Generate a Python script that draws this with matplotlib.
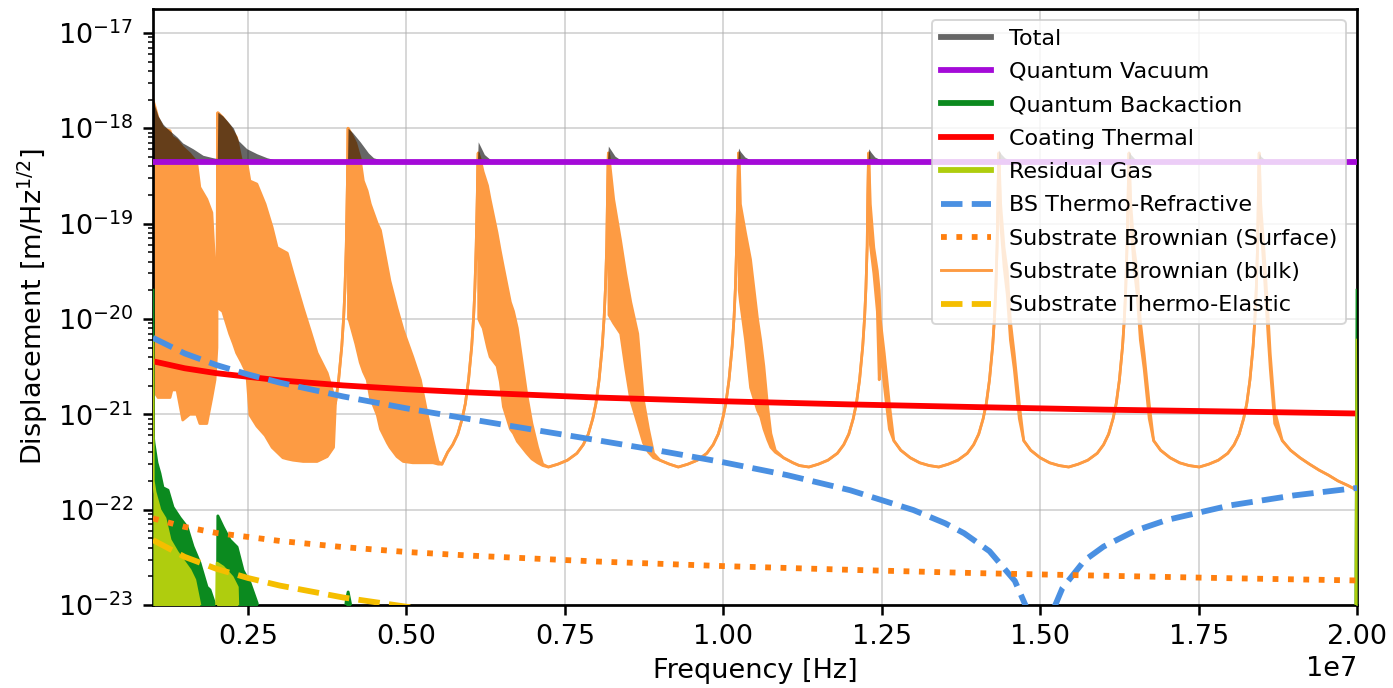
import numpy as np
import matplotlib
matplotlib.use('Agg')
import matplotlib.pyplot as plt
from matplotlib.lines import Line2D
from matplotlib.ticker import MultipleLocator

# all frequencies below are in MHz, noise in m/Hz^1/2
MHZ = 1e6

qv_freq = [1.0, 20.0]
qv_asd = [4.4e-19, 4.4e-19]

total_freq = [1.00, 1.03, 1.08, 1.16, 1.22, 1.30, 1.38, 1.47, 1.63, 1.79,
              1.95, 2.015, 2.024, 2.10, 2.17, 2.27, 2.35, 2.48, 2.64, 2.80,
              2.96, 3.20, 3.50, 4.07, 4.079, 4.15, 4.27, 4.40, 4.48, 4.70,
              4.90, 6.12, 6.132, 6.16, 6.23, 6.34, 6.44, 8.17, 8.186, 8.22,
              8.29, 8.39, 8.49, 10.225, 10.240, 10.27, 10.34, 10.44, 10.54,
              12.28, 12.294, 12.33, 12.39, 12.50, 12.60, 14.335, 14.348, 14.38,
              14.44, 14.55, 14.65, 16.39, 16.402, 16.43, 16.49, 16.60, 16.70,
              18.44, 18.456, 18.48, 18.54, 18.65, 18.75, 20.00]
total_asd = [2.0e-18, 1.7e-18, 1.35e-18, 1.1e-18, 1.0e-18, 9.0e-19, 8.1e-19,
             7.0e-19, 6.1e-19, 5.2e-19, 4.9e-19, 4.8e-19, 1.47e-18, 1.35e-18,
             1.2e-18, 1.0e-18, 7.4e-19, 6.1e-19, 5.4e-19, 4.9e-19, 4.6e-19,
             4.45e-19, 4.4e-19, 4.4e-19, 1.0e-18, 9.0e-19, 7.2e-19, 5.5e-19,
             4.9e-19, 4.45e-19, 4.4e-19, 4.4e-19, 7.2e-19, 6.6e-19, 5.3e-19,
             4.6e-19, 4.4e-19, 4.4e-19, 6.5e-19, 6.0e-19, 5.1e-19, 4.6e-19,
             4.4e-19, 4.4e-19, 6.2e-19, 5.7e-19, 5.0e-19, 4.6e-19, 4.4e-19,
             4.4e-19, 6.1e-19, 5.6e-19, 5.0e-19, 4.6e-19, 4.4e-19, 4.4e-19,
             5.9e-19, 5.4e-19, 4.9e-19, 4.55e-19, 4.4e-19, 4.4e-19, 5.7e-19,
             5.3e-19, 4.8e-19, 4.5e-19, 4.4e-19, 4.4e-19, 5.5e-19, 5.1e-19,
             4.7e-19, 4.45e-19, 4.4e-19, 4.4e-19]

# substrate brownian (bulk): upper / lower edge of the dense resonance band,
# one block per free spectral range
bulk_freq = [
    1.000, 1.03, 1.08, 1.16, 1.27, 1.30, 1.38, 1.47, 1.58, 1.69, 1.74, 1.85,
    1.93, 1.98, 2.01, 2.022,
    2.03, 2.10, 2.21, 2.27, 2.32, 2.40, 2.48, 2.53, 2.64, 2.77, 2.88, 2.96,
    3.05, 3.12, 3.21, 3.37, 3.48, 3.59, 3.75, 3.85, 3.88, 3.93, 3.98, 4.01,
    4.03, 4.05, 4.065, 4.073, 4.079,
    4.085, 4.10, 4.20, 4.27, 4.32, 4.38, 4.43, 4.54, 4.59, 4.70, 4.74, 4.85,
    4.95, 5.10, 5.22, 5.33, 5.42, 5.50, 5.56, 5.65, 5.73, 5.81, 5.88, 5.93,
    5.98, 6.03, 6.06, 6.08, 6.10, 6.118, 6.126, 6.132,
    6.14, 6.17, 6.21, 6.28, 6.32, 6.43, 6.48, 6.53, 6.64, 6.69, 6.75, 6.90,
    6.98, 7.07, 7.15, 7.24, 7.39, 7.54, 7.69, 7.79, 7.87, 7.94, 7.99, 8.04,
    8.09, 8.12, 8.14, 8.16, 8.172, 8.180, 8.186,
    8.195, 8.27, 8.38, 8.46, 8.54, 8.65, 8.74, 8.82, 8.90, 9.00, 9.15, 9.29,
    9.44, 9.59, 9.74, 9.84, 9.92, 9.99, 10.04, 10.09, 10.14, 10.17, 10.19,
    10.21, 10.226, 10.234, 10.240,
    10.25, 10.27, 10.35, 10.43, 10.54, 10.59, 10.64, 10.70, 10.75, 10.82,
    10.95, 11.10, 11.20, 11.35, 11.50, 11.65, 11.80, 11.90, 11.98, 12.05,
    12.10, 12.15, 12.20, 12.23, 12.25, 12.27, 12.28, 12.288, 12.294,
    12.32, 12.375, 12.43, 12.46, 12.48, 12.54, 12.62, 12.69, 12.80, 12.95,
    13.10, 13.25, 13.40, 13.55, 13.70, 13.85, 13.95, 14.03, 14.10, 14.15,
    14.20, 14.25, 14.28, 14.30, 14.32, 14.334, 14.342, 14.348,
    14.376, 14.43, 14.48, 14.53, 14.59, 14.67, 14.74, 14.85, 15.00, 15.15,
    15.30, 15.45, 15.60, 15.75, 15.90, 16.00, 16.08, 16.15, 16.20, 16.25,
    16.30, 16.33, 16.35, 16.37, 16.388, 16.396, 16.402,
    16.43, 16.48, 16.53, 16.58, 16.64, 16.72, 16.79, 16.90, 17.05, 17.20,
    17.35, 17.51, 17.66, 17.81, 17.96, 18.06, 18.14, 18.21, 18.26, 18.31,
    18.36, 18.39, 18.41, 18.43, 18.442, 18.450, 18.456,
    18.48, 18.535, 18.60, 18.63, 18.70, 18.82, 18.95, 19.10, 19.25, 19.40,
    19.55, 19.70, 19.85, 20.00]
bulk_hi = [
    2.0e-18, 1.7e-18, 1.28e-18, 1.0e-18, 9.4e-19, 8.1e-19, 7.5e-19, 6.3e-19,
    5.4e-19, 4.4e-19, 2.4e-19, 1.8e-19, 1.3e-19, 3.2e-20, 3.0e-20, 1.45e-18,
    1.45e-18, 1.3e-18, 1.05e-18, 9.0e-19, 8.0e-19, 4.4e-19, 4.4e-19, 2.8e-19,
    2.6e-19, 1.6e-19, 9.2e-20, 5.6e-20, 5.2e-20, 4.9e-20, 3.0e-20, 1.3e-20,
    7.6e-21, 4.4e-21, 2.7e-21, 1.6e-21, 1.3e-21, 2.3e-21, 5.2e-21, 1.06e-20,
    2.1e-20, 5.8e-20, 2.0e-19, 4.0e-19, 1.0e-18,
    9.8e-19, 9.5e-19, 7.0e-19, 4.8e-19, 2.8e-19, 2.2e-19, 1.6e-19, 1.0e-19,
    8.5e-20, 3.5e-20, 2.5e-20, 1.3e-20, 7.6e-21, 4.0e-21, 2.3e-21, 9.8e-22,
    5.3e-22, 3.2e-22, 3.0e-22, 4.0e-22, 4.8e-22, 6.2e-22, 9.0e-22, 1.3e-21,
    2.3e-21, 5.2e-21, 1.06e-20, 2.1e-20, 5.8e-20, 2.0e-19, 4.0e-19, 5.5e-19,
    5.3e-19, 4.6e-19, 3.5e-19, 2.5e-19, 1.8e-19, 8.0e-20, 5.2e-20, 3.5e-20,
    1.5e-20, 1.2e-20, 8.0e-21, 1.6e-21, 8.0e-22, 4.5e-22, 3.0e-22, 2.8e-22,
    3.0e-22, 3.3e-22, 3.9e-22, 4.8e-22, 6.2e-22, 9.0e-22, 1.3e-21, 2.3e-21,
    5.2e-21, 1.06e-20, 2.1e-20, 5.8e-20, 2.0e-19, 4.0e-19, 5.5e-19,
    5.2e-19, 1.8e-19, 6.6e-20, 3.0e-20, 1.5e-20, 7.0e-21, 1.4e-21, 7.0e-22,
    3.9e-22, 3.3e-22, 3.0e-22, 2.8e-22, 3.0e-22, 3.3e-22, 3.9e-22, 4.8e-22,
    6.2e-22, 9.0e-22, 1.3e-21, 2.3e-21, 5.2e-21, 1.06e-20, 2.1e-20, 5.8e-20,
    2.0e-19, 4.0e-19, 5.5e-19,
    5.2e-19, 1.6e-19, 8.0e-20, 4.2e-20, 1.0e-20, 6.0e-21, 3.2e-21, 1.2e-21,
    6.3e-22, 4.2e-22, 3.5e-22, 3.1e-22, 2.9e-22, 2.8e-22, 3.0e-22, 3.3e-22,
    3.9e-22, 4.8e-22, 6.2e-22, 9.0e-22, 1.3e-21, 2.3e-21, 5.2e-21, 1.06e-20,
    2.1e-20, 5.8e-20, 2.0e-19, 4.0e-19, 5.5e-19,
    1.6e-19, 5.6e-20, 3.2e-20, 2.0e-20, 9.6e-21, 4.35e-21, 1.3e-21, 5.3e-22,
    4.2e-22, 3.5e-22, 3.1e-22, 2.9e-22, 2.8e-22, 3.0e-22, 3.3e-22, 3.9e-22,
    4.8e-22, 6.2e-22, 9.0e-22, 1.3e-21, 2.3e-21, 5.2e-21, 1.06e-20, 2.1e-20,
    5.8e-20, 2.0e-19, 4.0e-19, 5.5e-19,
    1.6e-19, 5.6e-20, 3.2e-20, 9.6e-21, 4.35e-21, 1.3e-21, 5.3e-22, 4.2e-22,
    3.5e-22, 3.1e-22, 2.9e-22, 2.8e-22, 3.0e-22, 3.3e-22, 3.9e-22, 4.8e-22,
    6.2e-22, 9.0e-22, 1.3e-21, 2.3e-21, 5.2e-21, 1.06e-20, 2.1e-20, 5.8e-20,
    2.0e-19, 4.0e-19, 5.5e-19,
    1.6e-19, 5.6e-20, 3.2e-20, 9.6e-21, 4.35e-21, 1.3e-21, 5.3e-22, 4.2e-22,
    3.5e-22, 3.1e-22, 2.9e-22, 2.8e-22, 3.0e-22, 3.3e-22, 3.9e-22, 4.8e-22,
    6.2e-22, 9.0e-22, 1.3e-21, 2.3e-21, 5.2e-21, 1.06e-20, 2.1e-20, 5.8e-20,
    2.0e-19, 4.0e-19, 5.5e-19,
    1.6e-19, 4.85e-20, 1.0e-20, 4.35e-21, 1.1e-21, 5.3e-22, 4.2e-22, 3.5e-22,
    3.0e-22, 2.6e-22, 2.3e-22, 2.0e-22, 1.8e-22, 1.6e-22]
bulk_lo = [
    1.8e-21, 1.7e-21, 1.5e-21, 1.5e-21, 1.5e-21, 1.8e-21, 1.8e-21, 8.7e-22,
    1.0e-21, 1.0e-21, 8.0e-22, 8.0e-22, 1.5e-21, 2.3e-21, 5.0e-21, 1.45e-18,
    1.3e-20, 1.2e-20, 7.0e-21, 5.5e-21, 4.4e-21, 3.5e-21, 2.7e-21, 9.8e-22,
    7.5e-22, 6.0e-22, 4.5e-22, 4.0e-22, 3.5e-22, 3.4e-22, 3.3e-22, 3.2e-22,
    3.2e-22, 3.2e-22, 3.6e-22, 4.5e-22, 1.3e-21, 2.3e-21, 5.2e-21, 1.06e-20,
    2.1e-20, 5.8e-20, 2.0e-19, 4.0e-19, 1.0e-18,
    1.0e-20, 9.6e-21, 5.5e-21, 3.5e-21, 2.8e-21, 2.3e-21, 1.5e-21, 9.8e-22,
    7.0e-22, 5.0e-22, 4.5e-22, 3.6e-22, 3.2e-22, 3.1e-22, 3.1e-22, 3.1e-22,
    3.1e-22, 3.0e-22, 3.0e-22, 4.0e-22, 4.8e-22, 6.2e-22, 9.0e-22, 1.3e-21,
    2.3e-21, 5.2e-21, 1.06e-20, 2.1e-20, 5.8e-20, 2.0e-19, 4.0e-19, 5.5e-19,
    1.0e-20, 9.0e-21, 8.0e-21, 5.0e-21, 4.0e-21, 3.2e-21, 2.2e-21, 1.2e-21,
    7.0e-22, 6.3e-22, 5.2e-22, 3.9e-22, 3.4e-22, 3.1e-22, 2.9e-22, 2.8e-22,
    3.0e-22, 3.3e-22, 3.9e-22, 4.8e-22, 6.2e-22, 9.0e-22, 1.3e-21, 2.3e-21,
    5.2e-21, 1.06e-20, 2.1e-20, 5.8e-20, 2.0e-19, 4.0e-19, 5.5e-19,
    1.1e-20, 9.0e-21, 7.0e-21, 3.0e-21, 1.4e-21, 8.0e-22, 5.0e-22, 4.0e-22,
    3.5e-22, 3.3e-22, 3.0e-22, 2.8e-22, 3.0e-22, 3.3e-22, 3.9e-22, 4.8e-22,
    6.2e-22, 9.0e-22, 1.3e-21, 2.3e-21, 5.2e-21, 1.06e-20, 2.1e-20, 5.8e-20,
    2.0e-19, 4.0e-19, 5.5e-19,
    2.0e-20, 1.5e-20, 6.0e-21, 1.9e-21, 1.1e-21, 9.4e-22, 7.0e-22, 5.4e-22,
    4.5e-22, 4.0e-22, 3.5e-22, 3.1e-22, 2.9e-22, 2.8e-22, 3.0e-22, 3.3e-22,
    3.9e-22, 4.8e-22, 6.2e-22, 9.0e-22, 1.3e-21, 2.3e-21, 5.2e-21, 1.06e-20,
    2.1e-20, 5.8e-20, 2.0e-19, 4.0e-19, 5.5e-19,
    6.0e-20, 3.0e-20, 1.2e-20, 2.3e-21, 5.0e-21, 2.0e-21, 7.0e-22, 5.3e-22,
    4.2e-22, 3.5e-22, 3.1e-22, 2.9e-22, 2.8e-22, 3.0e-22, 3.3e-22, 3.9e-22,
    4.8e-22, 6.2e-22, 9.0e-22, 1.3e-21, 2.3e-21, 5.2e-21, 1.06e-20, 2.1e-20,
    5.8e-20, 2.0e-19, 4.0e-19, 5.5e-19,
    1.0e-19, 3.5e-20, 1.8e-20, 6.0e-21, 3.0e-21, 9.0e-22, 5.3e-22, 4.2e-22,
    3.5e-22, 3.1e-22, 2.9e-22, 2.8e-22, 3.0e-22, 3.3e-22, 3.9e-22, 4.8e-22,
    6.2e-22, 9.0e-22, 1.3e-21, 2.3e-21, 5.2e-21, 1.06e-20, 2.1e-20, 5.8e-20,
    2.0e-19, 4.0e-19, 5.5e-19,
    1.0e-19, 3.5e-20, 1.8e-20, 6.0e-21, 3.0e-21, 9.0e-22, 5.3e-22, 4.2e-22,
    3.5e-22, 3.1e-22, 2.9e-22, 2.8e-22, 3.0e-22, 3.3e-22, 3.9e-22, 4.8e-22,
    6.2e-22, 9.0e-22, 1.3e-21, 2.3e-21, 5.2e-21, 1.06e-20, 2.1e-20, 5.8e-20,
    2.0e-19, 4.0e-19, 5.5e-19,
    1.0e-19, 3.0e-20, 6.0e-21, 3.0e-21, 8.0e-22, 5.3e-22, 4.2e-22, 3.5e-22,
    3.0e-22, 2.6e-22, 2.3e-22, 2.0e-22, 1.8e-22, 1.6e-22]

backaction_freq = [1.0, 1.004, 1.016, 1.063, 1.11, 1.158, 1.237, 1.316,
                   1.427, 1.537, 1.632, 1.742, 1.853, 1.90, 1.98, 2.00, 2.018,
                   2.024, 2.106, 2.216, 2.327, 2.422, 2.532, 2.643, 2.70,
                   4.00, 4.05, 4.08, 4.12, 4.18, 19.98, 20.0]
backaction_asd = [2.0e-20, 6.0e-22, 5.0e-22, 3.1e-22, 2.4e-22, 1.7e-22,
                  1.6e-22, 1.06e-22, 8.2e-23, 6.6e-23, 4.1e-23, 2.75e-23,
                  1.54e-23, 1.44e-23, 1.0e-23, 8e-24, 8e-24, 8.6e-23, 6.6e-23,
                  4.8e-23, 4.05e-23, 2.3e-23, 1.7e-23, 1.05e-23, 7e-24, 5e-24,
                  1.1e-23, 1.37e-23, 1.0e-23, 6e-24, 3e-24, 2.0e-20]

gas_freq = [1.0, 1.004, 1.032, 1.11, 1.19, 1.27, 1.38, 1.47, 1.585, 1.66,
            1.74, 1.76, 2.0, 2.012, 2.106, 2.25, 2.33, 2.35, 19.98, 20.0]
gas_asd = [6e-21, 2.0e-22, 1.53e-22, 9.9e-23, 8.1e-23, 4.8e-23, 3.6e-23,
           2.96e-23, 2.32e-23, 1.83e-23, 1.0e-23, 5e-24, 5e-24, 2.75e-23,
           2.5e-23, 1.96e-23, 1.54e-23, 5e-24, 3e-24, 6e-21]

coating_freq = [1, 1.5, 2, 3, 4, 5, 6, 8, 10, 12, 14, 16, 18, 20]
coating_asd = [3.6e-21, 3.04e-21, 2.7e-21, 2.27e-21, 2.01e-21, 1.83e-21,
               1.70e-21, 1.50e-21, 1.37e-21, 1.27e-21, 1.19e-21, 1.12e-21,
               1.07e-21, 1.02e-21]

bs_freq = [1, 1.5, 2, 2.5, 3, 4, 5, 6, 7, 8, 9, 10, 11, 12, 13, 13.5, 13.8,
           14.2, 14.6, 14.8, 14.9, 15.1, 15.2, 15.35, 15.7, 16, 16.5, 17, 18,
           19, 20]
bs_asd = [6.34e-21, 4.35e-21, 3.29e-21, 2.62e-21, 2.15e-21, 1.54e-21,
          1.155e-21, 8.9e-22, 6.9e-22, 5.36e-22, 4.14e-22, 3.14e-22, 2.31e-22,
          1.6e-22, 9.9e-23, 7.2e-23, 5.66e-23, 3.67e-23, 1.79e-23, 8.9e-24,
          4.4e-24, 4.3e-24, 8.7e-24, 1.5e-23, 2.94e-23, 4.1e-23, 6.02e-23,
          7.8e-23, 1.11e-22, 1.41e-22, 1.69e-22]

surface_freq = [1, 1.5, 2, 3, 4, 5, 6, 8, 10, 12, 14, 16, 18, 20]
surface_asd = [8.1e-23, 6.6e-23, 5.7e-23, 4.7e-23, 4.05e-23, 3.6e-23,
               3.3e-23, 2.86e-23, 2.56e-23, 2.34e-23, 2.16e-23, 2.03e-23,
               1.91e-23, 1.81e-23]

te_freq = [1, 1.5, 2, 2.5, 3, 4, 5, 6, 8, 10, 15, 20]
te_asd = [4.8e-23, 3.2e-23, 2.4e-23, 1.92e-23, 1.6e-23, 1.2e-23, 9.6e-24,
          8e-24, 6e-24, 4.8e-24, 3.2e-24, 2.4e-24]

assert len(bulk_freq) == len(bulk_hi) == len(bulk_lo)


def hz(freq_mhz):
    return np.array(freq_mhz) * MHZ


plt.rcParams['font.size'] = 14

DPI = 139.3
fig = plt.figure(figsize=(1393 / DPI, 688 / DPI), dpi=DPI)
ax = fig.add_axes([0.1098, 0.1206, 0.8644, 0.8670])

c_total = 'k'
c_qv = '#a40ad8'
c_back = '#0b8a1f'
c_coat = '#ff0000'
c_gas = '#afcd0e'
c_bs = '#4a90e2'
c_surf = '#ff7f0e'
c_bulk = '#fd9b43'
c_te = '#f5be00'

floor = 1e-26

# bulk band (drawn first, under everything)
ax.fill_between(hz(bulk_freq), bulk_lo, bulk_hi, color=c_bulk, lw=0,
                zorder=2)
ax.plot(hz(bulk_freq), bulk_lo, color=c_bulk, lw=1.4, zorder=2)
ax.plot(hz(bulk_freq), bulk_hi, color=c_bulk, lw=1.4, zorder=2)

# total: translucent black above the quantum vacuum level
ax.fill_between(hz(total_freq), qv_asd[0], total_asd, color=c_total,
                alpha=0.6, lw=0, zorder=3)
ax.plot(hz(qv_freq), qv_asd, color=c_qv, lw=3, zorder=4)

ax.fill_between(hz(backaction_freq), floor, backaction_asd, color=c_back,
                lw=0, zorder=5)
ax.plot(hz(backaction_freq), backaction_asd, color=c_back, lw=1.5, zorder=5)
ax.plot(hz(coating_freq), coating_asd, color=c_coat, lw=3, zorder=5)
ax.fill_between(hz(gas_freq), floor, gas_asd, color=c_gas, lw=0, zorder=5)
ax.plot(hz(gas_freq), gas_asd, color=c_gas, lw=1.5, zorder=5)
ax.plot(hz(bs_freq), bs_asd, color=c_bs, lw=3, ls='--', zorder=6)
ax.plot(hz(surface_freq), surface_asd, color=c_surf, lw=3, ls=':', zorder=6)
ax.plot(hz(te_freq), te_asd, color=c_te, lw=3, ls='--', zorder=6)

handles = [
    Line2D([], [], color=c_total, alpha=0.6, lw=3),
    Line2D([], [], color=c_qv, lw=3),
    Line2D([], [], color=c_back, lw=3),
    Line2D([], [], color=c_coat, lw=3),
    Line2D([], [], color=c_gas, lw=3),
    Line2D([], [], color=c_bs, lw=3, ls='--'),
    Line2D([], [], color=c_surf, lw=3, ls=':'),
    Line2D([], [], color=c_bulk, lw=1.5),
    Line2D([], [], color=c_te, lw=3, ls='--'),
]
labels = ['Total', 'Quantum Vacuum', 'Quantum Backaction', 'Coating Thermal',
          'Residual Gas', 'BS Thermo-Refractive',
          'Substrate Brownian (Surface)', 'Substrate Brownian (bulk)',
          'Substrate Thermo-Elastic']
leg = ax.legend(handles, labels, loc='upper right', fontsize=11.5,
                handlelength=2.25, labelspacing=0.6)
leg.set_zorder(10)

ax.set_yscale('log')
ax.set_xlim(1e6, 2e7)
ax.set_ylim(1e-23, 1.8e-17)
ax.set_yticks([1e-23, 1e-22, 1e-21, 1e-20, 1e-19, 1e-18, 1e-17])
ax.xaxis.set_major_locator(MultipleLocator(2.5e6))
ax.grid(True, which='major', color='#b0b0b0', alpha=0.5, lw=1.0)
ax.set_xlabel('Frequency [Hz]')
ax.set_ylabel('Displacement [m/Hz$^{1/2}$]')

for sp in ax.spines.values():
    sp.set_linewidth(1.4)
ax.tick_params(which='major', length=5, width=1.3, pad=5)
ax.tick_params(which='minor', length=2.5, width=0.8)

fig.savefig('out.png', dpi=DPI)
